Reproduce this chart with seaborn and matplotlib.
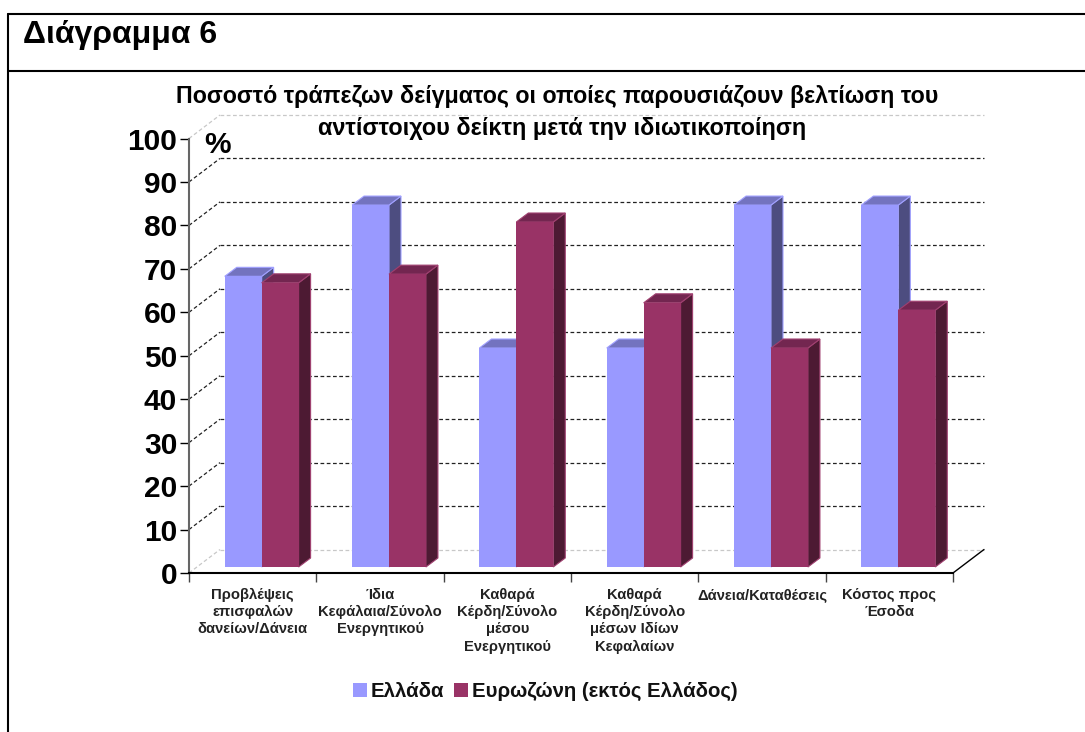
import pandas as pd
import matplotlib
matplotlib.use('Agg')
import matplotlib.pyplot as plt
import seaborn as sns
from matplotlib.lines import Line2D
from matplotlib.patches import Polygon, Rectangle
from matplotlib.transforms import Affine2D, IdentityTransform

# ── Data ──────────────────────────────────────────────────────────────────
categories = [
    'Προβλέψεις\nεπισφαλών\nδανείων/Δάνεια',
    'Ίδια\nΚεφάλαια/Σύνολο\nΕνεργητικού',
    'Καθαρά\nΚέρδη/Σύνολο\nμέσου\nΕνεργητικού',
    'Καθαρά\nΚέρδη/Σύνολο\nμέσων Ιδίων\nΚεφαλαίων',
    'Δάνεια/Καταθέσεις',
    'Κόστος προς\nΈσοδα',
]
greece = [66.9, 83.3, 50.4, 50.4, 83.3, 83.3]
eurozone = [65.4, 67.4, 79.4, 60.8, 50.4, 59.1]
series_names = ['Ελλάδα', 'Ευρωζώνη (εκτός Ελλάδος)']
yticks = list(range(0, 101, 10))

W, H = 1085, 732
colors = ['#9999FF', '#993366']
tops = ['#7373BF', '#732650']
sides = ['#4D4D80', '#4D1A33']
edges = ['#A0A0FF', '#A04070']

sns.set_theme(style='white')
plt.rcParams['font.family'] = ['Liberation Sans', 'DejaVu Sans']

fig = plt.figure(figsize=(W / 100, H / 100), dpi=100)
ax = fig.add_axes([189 / W, 1 - 573 / H, (953 - 189) / W, (573 - 138.5) / H])

df = pd.DataFrame({
    'cat': categories * 2,
    'val': greece + eurozone,
    'series': [series_names[0]] * 6 + [series_names[1]] * 6,
})
sns.barplot(data=df, x='cat', y='val', hue='series', hue_order=series_names,
            palette=colors, saturation=1, width=0.58, gap=0, legend=False, ax=ax)
ax.set_xlim(-0.5, 5.5)
ax.set_ylim(0, 100)
ax.set_xlabel('')
ax.set_ylabel('')
fig.canvas.draw()

# ── 3D look: bars sit a bit inside the floor ──────────────────────────────
bar_dx, bar_dy = 9, 6
depth_x, depth_y = 12, 9
shift = Affine2D().translate(bar_dx, bar_dy)
for i, p in enumerate(ax.patches[:12]):
    s = i // 6
    p.set_transform(ax.transData + shift)
    p.set_zorder(3 + s + 0.5)
    p.set_clip_on(False)
    p.set_edgecolor('none')
    p.set_linewidth(0)
    (x0, y0), (x1, y1) = ax.transData.transform(
        [(p.get_x(), 0), (p.get_x() + p.get_width(), p.get_height())])
    x0 += bar_dx; x1 += bar_dx; y0 += bar_dy; y1 += bar_dy
    top = [(x0, y1), (x1, y1), (x1 + depth_x, y1 + depth_y), (x0 + depth_x, y1 + depth_y)]
    side = [(x1, y0), (x1, y1), (x1 + depth_x, y1 + depth_y), (x1 + depth_x, y0 + depth_y)]
    ax.add_patch(Polygon(top, transform=IdentityTransform(), fc=tops[s], ec=edges[s],
                         lw=0.8, zorder=3 + s + 0.2, clip_on=False))
    ax.add_patch(Polygon(side, transform=IdentityTransform(), fc=sides[s], ec=edges[s],
                         lw=0.8, zorder=3 + s + 0.1, clip_on=False))

# ── Back wall and floor ───────────────────────────────────────────────────
wall_x, wall_y = 31, 23.5
for t in yticks:
    px0, py = ax.transData.transform((-0.5, t))
    px1, _ = ax.transData.transform((5.5, t))
    col = '#C8C8C8' if t in (0, 100) else '#222222'
    ax.plot([px0, px0 + wall_x], [py, py + wall_y], transform=IdentityTransform(),
            color=col, lw=0.9, ls=(0, (3, 2)), zorder=1, clip_on=False)
    ax.plot([px0 + wall_x, px1 + wall_x], [py + wall_y, py + wall_y], transform=IdentityTransform(),
            color=col, lw=0.9, ls=(0, (3, 2)), zorder=1, clip_on=False)
px1, py = ax.transData.transform((5.5, 0))
ax.plot([px1, px1 + wall_x], [py, py + wall_y], transform=IdentityTransform(),
        color='black', lw=1, zorder=2, clip_on=False)

# ── Axes ──────────────────────────────────────────────────────────────────
sns.despine(ax=ax, top=True, right=True)
ax.patch.set_alpha(0)
ax.spines['left'].set_color('#666666')
ax.spines['left'].set_linewidth(1.5)
ax.spines['bottom'].set_color('black')
ax.spines['bottom'].set_linewidth(1.5)
ax.set_yticks(yticks)
ax.set_yticklabels([str(t) for t in yticks], fontsize=21.5, fontweight='bold', color='black')
ax.tick_params(axis='y', left=True, length=6.5, width=1, color='black', pad=2)
ax.set_xticks([i - 0.5 for i in range(7)])
ax.set_xticklabels([])
ax.set_xticks(range(6), categories, minor=True, fontsize=10.6, fontweight='bold',
              color='#222222', linespacing=1.3)
ax.tick_params(axis='x', which='major', bottom=True, length=6.5, width=1, color='#444444')
ax.tick_params(axis='x', which='minor', bottom=False, length=0, pad=10.5)

ax.text(204, H - 145, '%', transform=IdentityTransform(), fontsize=21.5, fontweight='bold',
        va='center', ha='left', color='black', zorder=6)

# ── Title and frame ───────────────────────────────────────────────────────
fig.text(23 / W, 1 - 43 / H, 'Διάγραμμα 6', fontsize=23, fontweight='bold', va='baseline',
         color='black')
fig.text(557.5 / W, 1 - 97 / H, 'Ποσοστό τράπεζων δείγματος οι οποίες παρουσιάζουν βελτίωση του',
         fontsize=16.75, fontweight='bold', ha='center', va='center', color='black', zorder=7)
fig.text(562.5 / W, 1 - 128 / H, 'αντίστοιχου δείκτη μετά την ιδιωτικοποίηση',
         fontsize=16.9, fontweight='bold', ha='center', va='center', color='black', zorder=7)

frame = dict(color='black', lw=1.5, transform=IdentityTransform())
fig.add_artist(Line2D([8, W], [H - 14, H - 14], **frame))
fig.add_artist(Line2D([8, W], [H - 71, H - 71], **frame))
fig.add_artist(Line2D([8, 8], [0, H - 14], **frame))

# ── Legend ────────────────────────────────────────────────────────────────
for x, col in zip([353, 454], colors):
    fig.add_artist(Rectangle((x, H - 697), 14, 14, transform=IdentityTransform(), fc=col, ec='none'))
fig.text(371 / W, 1 - 697 / H, series_names[0], fontsize=14.7, fontweight='bold', va='baseline', color='#111111')
fig.text(472 / W, 1 - 697 / H, series_names[1], fontsize=14.7, fontweight='bold', va='baseline', color='#111111')

plt.savefig('out.png', dpi=100)
